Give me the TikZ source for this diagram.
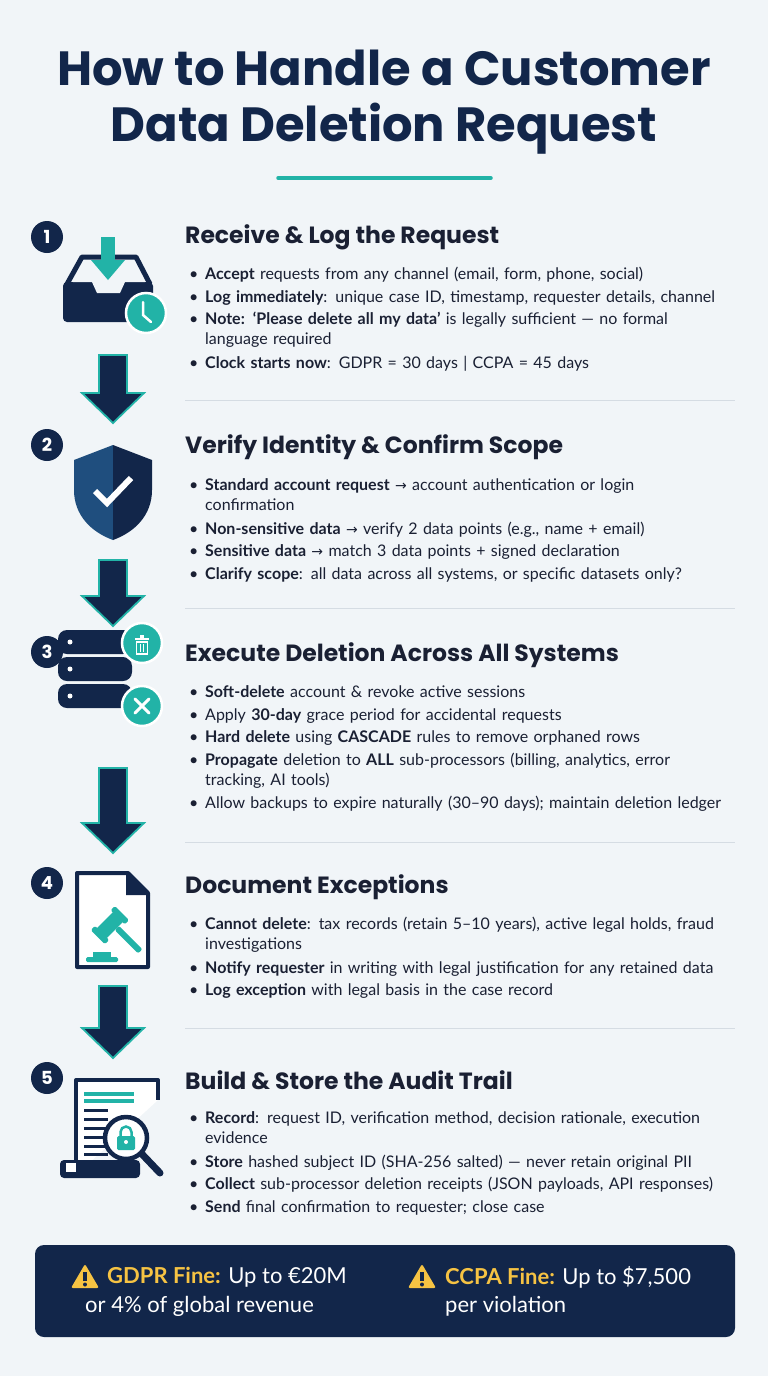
\documentclass[tikz,border=0pt]{standalone}
\usepackage{fontspec}
\setmainfont{Lato}
\newfontfamily\headf{Poppins}
\newfontfamily\symf{DejaVu Sans}
\usetikzlibrary{calc}
\definecolor{navy}{HTML}{12264A}
\definecolor{navyl}{HTML}{1F4E7E}
\definecolor{teal}{HTML}{22B3A7}
\definecolor{bg}{HTML}{F1F5F8}
\definecolor{txt}{HTML}{1A2033}
\definecolor{sep}{HTML}{D5DCE3}
\definecolor{warn}{HTML}{F6C343}
\newcommand\itm[1]{\par\vspace{2.5pt}\noindent\makebox[16pt][l]{\textbullet}\parbox[t]{524pt}{\raggedright #1\strut}}
\newcommand\ar{{\symf\fontsize{14}{20}\selectfont→}}
\newcommand\flowarr[3]{\draw[darr] (#1-14,#2) -- (#1+14,#2) -- (#1+14,#3-30) -- (#1+31,#3-30) -- (#1,#3) -- (#1-31,#3-30) -- (#1-14,#3-30) -- cycle;}
\newcommand\warnsign[2]{\fill[warn,rounded corners=2pt] (#1-14,#2+11) -- (#1,#2-13) -- (#1+14,#2+11) -- cycle;
  \fill[navy] (#1-1.8,#2-5) rectangle (#1+1.8,#2+4); \fill[navy] (#1,#2+7.5) circle (2);}
\tikzset{
  numc/.style={circle,fill=navy,text=white,minimum size=32pt,inner sep=0pt,font=\headf\bfseries\fontsize{18}{18}\selectfont},
  head/.style={anchor=west,text=txt,font=\headf\bfseries\fontsize{23.5}{28}\selectfont,inner sep=0pt},
  body/.style={anchor=north west,text=txt,text width=540pt,inner sep=0pt,font=\fontsize{16}{20}\selectfont},
  darr/.style={fill=navy,draw=teal,line width=1.8pt,line join=miter},
  sepl/.style={draw=sep,line width=0.8pt},
  tcirc/.style={circle,fill=teal,draw=white,line width=2.5pt,minimum size=40pt,inner sep=0pt}
}
\begin{document}
\begin{tikzpicture}[x=1pt,y=-1pt]
\fill[bg] (0,0) rectangle (768,1376);
\useasboundingbox (0,0) rectangle (768,1376);
% title
\node[text=navy,font=\headf\bfseries\fontsize{48}{56}\selectfont,align=center] (title) at (384,102) {How to Handle a Customer\\Data Deletion Request};
\draw[teal,line width=3.5pt,line cap=round] (278,178) -- (491,178);
% arrows
\flowarr{113}{355}{423}
\flowarr{113}{560}{626}
\flowarr{113}{768}{853}
\flowarr{113}{986}{1058}
% separators
\foreach \y in {400,608,842,1028} \draw[sepl] (185,\y) -- (735,\y);
% section 1
\node[numc] (n1) at (47,237) {1};
\node[head] (h1) at (185,237) {Receive \& Log the Request};
\node[body] (b1) at (189,257) {\itm{\textbf{Accept} requests from any channel (email, form, phone, social)}
\itm{\textbf{Log immediately}: unique case ID, timestamp, requester details, channel}
\itm{\textbf{Note: ‘Please delete all my data’} is legally sufficient — no formal\newline language required}
\itm{\textbf{Clock starts now}: GDPR = 30 days | CCPA = 45 days}};
% icon 1 inbox
\fill[navy,rounded corners=4pt] (63,282) rectangle (153,322);
\draw[navy,line width=5pt,line join=round] (67,284) -- (82,257) -- (136,257) -- (150,284);
\fill[bg] (73,282) -- (92,282) -- (97,293) -- (120,293) -- (125,282) -- (145,282) -- (134,262) -- (84,262) -- cycle;
\fill[teal] (101,237) rectangle (115,262);
\fill[teal] (91,260) -- (125,260) -- (108,280) -- cycle;
\node[tcirc] (clk) at (146,313) {};
\draw[white,line width=2.5pt,line cap=round] (143,302) -- (143,315) -- (151,322);
% section 2
\node[numc] (n2) at (47,445) {2};
\node[head] (h2) at (185,447) {Verify Identity \& Confirm Scope};
\node[body] (b2) at (189,468) {\itm{\textbf{Standard account request} \ar{} account authentication or login\newline confirmation}
\itm{\textbf{Non-sensitive data} \ar{} verify 2 data points (e.g., name + email)}
\itm{\textbf{Sensitive data} \ar{} match 3 data points + signed declaration}
\itm{\textbf{Clarify scope}: all data across all systems, or specific datasets only?}};
\fill[navyl] (113,445) -- (74,460) -- (74,490) .. controls (74,515) and (91,532) .. (113,540) -- cycle;
\fill[navy] (113,445) -- (152,460) -- (152,490) .. controls (152,515) and (135,532) .. (113,540) -- cycle;
\draw[white,line width=6pt] (95,491) -- (107,503) -- (131,478);
% section 3
\node[numc] (n3) at (47,652) {3};
\node[head] (h3) at (185,655) {Execute Deletion Across All Systems};
\node[body] (b3) at (189,675) {\itm{\textbf{Soft-delete} account \& revoke active sessions}
\itm{Apply \textbf{30-day} grace period for accidental requests}
\itm{\textbf{Hard delete} using \textbf{CASCADE} rules to remove orphaned rows}
\itm{\textbf{Propagate} deletion to \textbf{ALL} sub-processors (billing, analytics, error\newline tracking, AI tools)}
\itm{Allow backups to expire naturally (30–90 days); maintain deletion ledger}};
\foreach \y in {630,657,684} {
  \fill[navy,rounded corners=9pt] (58,\y) rectangle (132,\y+24);
  \fill[white] (70,\y+12) circle (2.5);
}
\node[tcirc] (trash) at (142,643) {};
\fill[white] (135,638) rectangle (149,640);
\fill[white] (140,635) rectangle (144,638);
\draw[white,line width=1.8pt] (136.5,642) rectangle (147.5,654);
\draw[white,line width=1.2pt] (140.5,644) -- (140.5,652) (143.5,644) -- (143.5,652);
\node[tcirc] (xc) at (142,706) {};
\draw[white,line width=3pt,line cap=round] (135,699) -- (149,713) (149,699) -- (135,713);
% section 4
\node[numc] (n4) at (47,883) {4};
\node[head] (h4) at (185,887) {Document Exceptions};
\node[body] (b4) at (189,907) {\itm{\textbf{Cannot delete}: tax records (retain 5–10 years), active legal holds, fraud\newline investigations}
\itm{\textbf{Notify requester} in writing with legal justification for any retained data}
\itm{\textbf{Log exception} with legal basis in the case record}};
\draw[navy,fill=white,line width=4pt,line join=round] (77,873) -- (128,873) -- (148,893) -- (148,967) -- (77,967) -- cycle;
\fill[navy] (126,871) -- (126,895) -- (150,895) -- cycle;
\begin{scope}[shift={(112,923)},rotate=45]
\fill[teal,rounded corners=1.5pt] (-16,-7) rectangle (10,7);
\fill[teal,rounded corners=1.5pt] (-20,-10) rectangle (-14,10);
\fill[teal,rounded corners=1.5pt] (8,-10) rectangle (14,10);
\fill[teal,rounded corners=2pt] (-3,7) rectangle (3,40);
\end{scope}
\fill[teal,rounded corners=1.5pt] (86,957) rectangle (118,962);
\fill[teal] (93,952) rectangle (111,957);
% section 5
\node[numc] (n5) at (47,1078) {5};
\node[head] (h5) at (185,1080) {Build \& Store the Audit Trail};
\node[body] (b5) at (189,1101) {\itm{\textbf{Record}: request ID, verification method, decision rationale, execution\newline evidence}
\itm{\textbf{Store} hashed subject ID (SHA-256 salted) — never retain original PII}
\itm{\textbf{Collect} sub-processor deletion receipts (JSON payloads, API responses)}
\itm{\textbf{Send} final confirmation to requester; close case}};
\draw[navy,fill=white,line width=4pt,line join=round] (76,1175) -- (76,1080) -- (158,1080) -- (158,1100);
\fill[navy,rounded corners=4pt] (60,1160) rectangle (140,1178);
\fill[white] (66,1163) rectangle (76,1172);
\foreach \y in {1092,1099} \fill[teal] (84,\y) rectangle (134,\y+4);
\foreach \y in {1109,1118,1127,1136,1145,1153} \fill[navy] (84,\y) rectangle (108,\y+3);
\draw[navy,line width=7pt,line cap=round] (140,1152) -- (160,1173);
\draw[navy,fill=white,line width=4.5pt] (126,1138) circle (21);
\fill[teal,rounded corners=1.5pt] (117,1136) rectangle (135,1150);
\draw[teal,line width=2.5pt] (120.5,1137) -- (120.5,1132) arc (180:360:5.5) -- (131.5,1137);
\fill[white] (126,1142) circle (2);
% bottom banner
\fill[navy,rounded corners=9pt] (35,1245) rectangle (735,1337);
\warnsign{85}{1277}
\warnsign{422}{1277}
\node[anchor=west,inner sep=0pt,text=white,font=\fontsize{22}{28}\selectfont,align=left] (g1) at (107,1277) {{\color{warn}\bfseries GDPR Fine:} Up to €20M};
\node[anchor=west,inner sep=0pt,text=white,font=\fontsize{22}{28}\selectfont] (g2) at (85,1306) {or 4\% of global revenue};
\node[anchor=west,inner sep=0pt,text=white,font=\fontsize{22}{28}\selectfont] (c1) at (445,1277) {{\color{warn}\bfseries CCPA Fine:} Up to \$7,500};
\node[anchor=west,inner sep=0pt,text=white,font=\fontsize{22}{28}\selectfont] (c2) at (445,1306) {per violation};
\end{tikzpicture}
\end{document}
